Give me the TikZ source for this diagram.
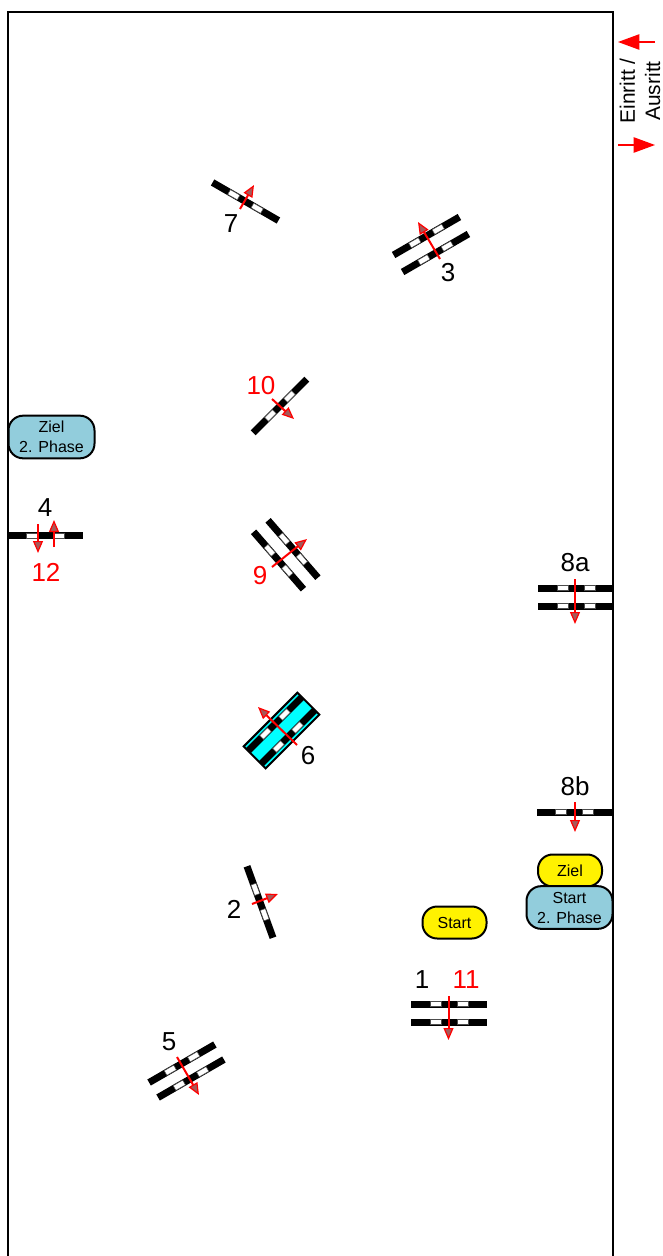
\documentclass[tikz,border=0pt]{standalone}
\usepackage{fontspec}
\setsansfont{Liberation Sans}
\usetikzlibrary{arrows.meta}
\definecolor{phaseblue}{RGB}{146,205,220}
\definecolor{stripcyan}{RGB}{0,255,255}
\tikzset{
  pics/crossbar/.style={code={
    \fill[black] (-38,-3.5) rectangle (38,3.5);
    \foreach \s in {-1,1} \draw[black!70,line width=0.4pt,fill=white] (\s*8,-2.7) rectangle (\s*19,2.7);
  }},
  passage/.style={red,line width=1.5pt,-{Triangle[length=9pt,width=7.5pt,line width=0.9pt,fill=gray!70!red]}},
  legendarrow/.style={red,line width=1pt,-{Triangle[length=16pt,width=11.5pt]}},
  numlabel/.style={font=\sffamily\fontsize{19.5}{22}\selectfont},
  redlabel/.style={numlabel,text=red},
  goalbox/.style={draw=black,line width=1.5pt,rounded corners=11pt,inner sep=0pt,align=center,
    font=\sffamily\fontsize{12}{15}\selectfont},
  startbox/.style={goalbox,fill=yellow,minimum width=48pt,minimum height=24pt},
  phasebox/.style={goalbox,fill=phaseblue,minimum width=64.5pt,minimum height=32pt}
}
\begin{document}
\begin{tikzpicture}[x=0.75pt,y=-0.75pt,font=\sffamily]
\useasboundingbox (0,0) rectangle (663,1256);
\draw[line width=1.5pt] (8,1256)--(8,12.5)--(613,12.5)--(613,1256);
% legend
\draw[legendarrow] (655,42)--(618,42); \draw[legendarrow] (618,145)--(655,145);
\node[rotate=90,align=center,font=\sffamily\fontsize{15.7}{18.8}\selectfont] (legendtext) at (640,91){Einritt /\\Ausritt};
% boxes
\node[phasebox] (zielblue) at (51.5,437){Ziel\\2. Phase};
\node[startbox] (zielyellow) at (570,870.5){Ziel};
\node[phasebox] (startblue) at (569.5,907.5){Start\\2. Phase};
\node[startbox] (startyellow) at (454.5,922.5){Start};
% crossing 6 lies on a cyan strip
\draw[fill=stripcyan,line width=1.5pt,rotate around={45:(281.5,730.5)}] (243.5,715) rectangle (319.5,746);
\pic[rotate=45] at (275,724) {crossbar}; \pic[rotate=45] at (288,737) {crossbar};
% single and double crossings
\pic[rotate=-30] at (245.5,201.5) {crossbar};
\pic[rotate=30] at (426.5,236) {crossbar}; \pic[rotate=30] at (435.5,253) {crossbar};
\pic[rotate=45] at (280,406) {crossbar};
\pic[rotate=-49] at (278.5,560.5) {crossbar}; \pic[rotate=-49] at (293,549) {crossbar};
\pic at (45,535.5) {crossbar};
\pic at (576,588) {crossbar}; \pic at (576,606) {crossbar};
\pic at (574.5,812) {crossbar};
\pic at (449,1004) {crossbar}; \pic at (449,1022) {crossbar};
\pic[rotate=-70] at (260,902) {crossbar};
\pic[rotate=30] at (182,1063.5) {crossbar}; \pic[rotate=30] at (191,1078.5) {crossbar};
% directions
\draw[passage] (240,209)--(254,185); \draw[passage] (440,259)--(418,222);
\draw[passage] (272,399)--(294,419); \draw[passage] (272,567)--(307,539);
\draw[passage] (38,524)--(38,553); \draw[passage] (54,547)--(54,520);
\draw[passage] (575,579)--(575,624); \draw[passage] (575,802)--(575,832);
\draw[passage] (448.5,996)--(448.5,1040); \draw[passage] (252,904)--(278,894);
\draw[passage] (177,1057)--(199,1095); \draw[passage] (297,745)--(258,707);
% labels
\node[numlabel] (nrseven) at (231,224){7}; \node[numlabel] (nrthree) at (448,273){3};
\node[redlabel] (nrten) at (261,386){10}; \node[redlabel] (nrnine) at (260,576){9};
\node[numlabel] (nrfour) at (45,508){4}; \node[redlabel] (nrtwelve) at (46,572){12};
\node[numlabel] (nreighta) at (575,563){8a}; \node[numlabel] (nreightb) at (575,786){8b};
\node[numlabel] (nrsix) at (308,756){6}; \node[numlabel] (nrtwo) at (234,909){2};
\node[numlabel] (nrfive) at (169,1042){5}; \node[numlabel] (nrone) at (422,980){1};
\node[redlabel] (nreleven) at (466,980){11};
\end{tikzpicture}
\end{document}
